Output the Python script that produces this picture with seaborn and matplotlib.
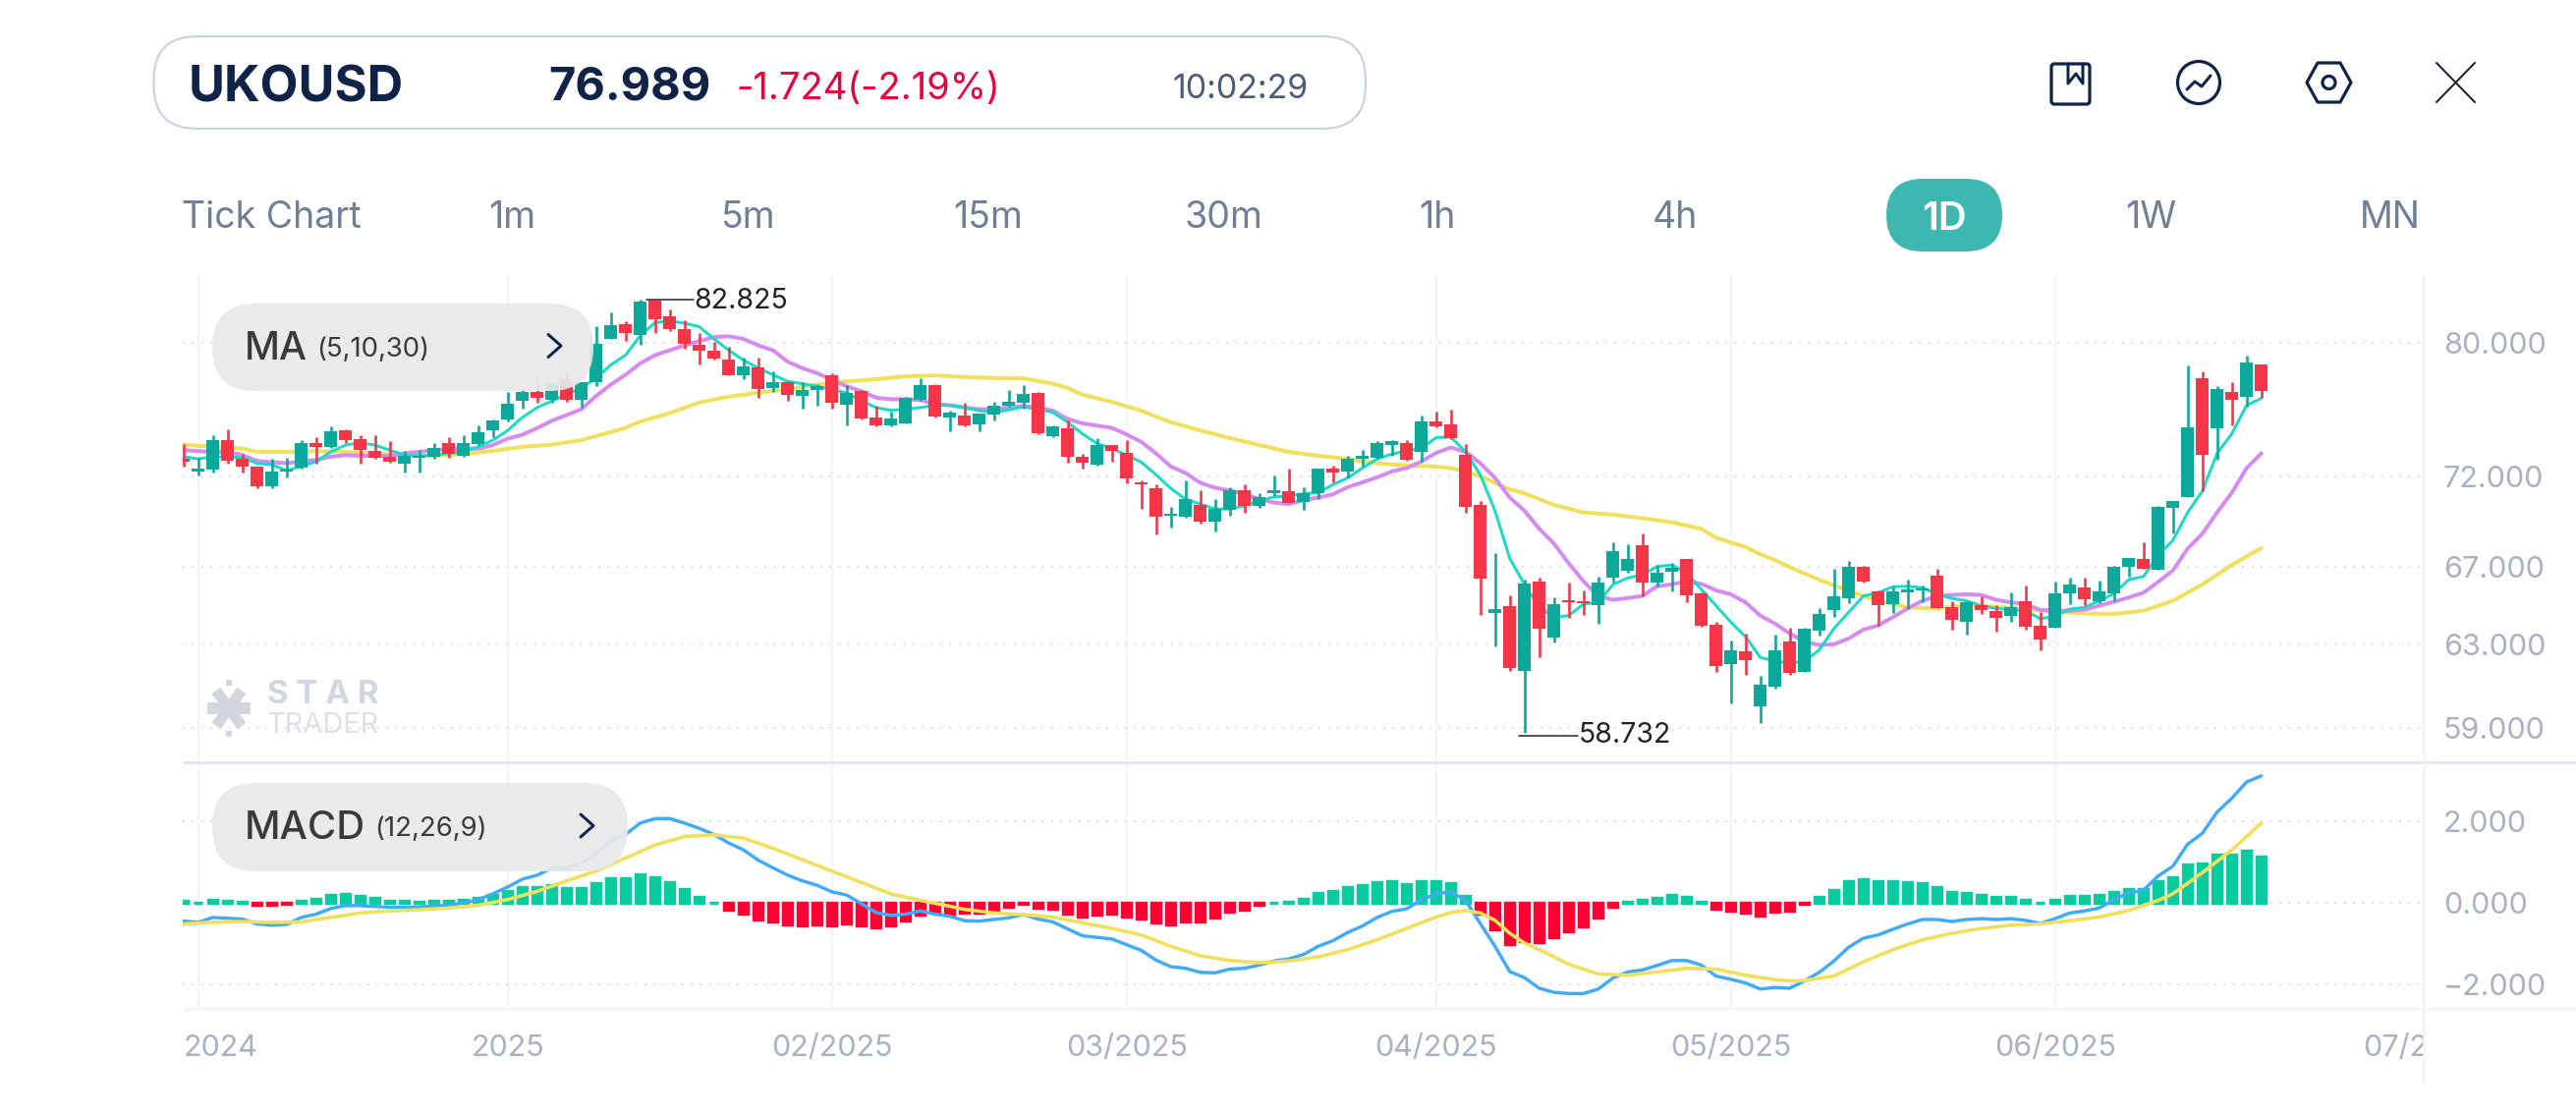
import numpy as np
import pandas as pd
import matplotlib
matplotlib.use("Agg")
import matplotlib.pyplot as plt
from matplotlib.patches import FancyBboxPatch, Circle, Polygon
from matplotlib.transforms import Bbox, TransformedBbox
import seaborn as sns

# ---------- data ----------
opens = [73.02,72.27,72.37,74.11,73.02,72.57,71.41,72.27,72.50,73.94,73.67,74.64,74.15,73.46,73.12,72.70,73.06,73.10,73.90,73.17,
 73.84,74.65,75.33,76.42,76.97,76.48,77.69,76.48,77.55,80.29,81.19,80.50,82.71,81.69,80.90,79.92,79.51,78.97,77.96,78.49,
 77.19,77.55,76.72,77.07,78.00,76.18,77.05,75.43,74.94,75.10,76.48,77.39,75.43,75.53,75.02,75.59,76.12,76.28,76.91,74.31,
 74.79,73.12,72.65,73.82,73.34,71.67,71.34,69.78,69.73,70.40,69.46,70.11,71.21,70.31,71.03,71.15,70.55,71.04,72.42,72.27,
 73.00,73.08,73.79,73.92,73.40,75.19,75.02,73.25,70.40,64.60,64.98,61.72,66.25,63.36,65.28,65.21,65.01,66.42,66.82,68.18,
 66.16,66.73,67.41,65.62,64.02,62.05,62.66,60.02,60.94,63.15,61.66,63.68,64.76,65.37,66.99,65.72,65.06,65.67,65.77,66.56,
 64.89,64.16,65.00,64.69,64.47,65.23,63.93,63.86,65.62,65.94,65.20,65.62,66.99,67.44,66.85,70.22,70.80,77.82,74.77,76.97,76.66,78.67]
highs = [73.88,73.08,74.40,74.75,73.31,72.57,73.02,73.08,74.11,74.27,74.87,74.75,74.40,74.40,74.04,73.46,73.50,73.94,74.27,74.40,
 74.98,75.33,76.97,77.17,77.88,77.65,78.26,77.55,81.07,81.97,81.42,82.83,82.80,82.17,81.46,80.65,80.09,79.76,79.10,79.10,
 78.22,77.61,77.55,77.47,78.12,77.41,77.07,76.12,75.77,76.68,77.82,77.45,75.83,76.32,75.65,76.38,77.11,77.39,76.95,74.98,
 75.23,73.31,74.21,73.82,74.08,71.74,71.52,70.24,71.74,71.19,70.70,71.37,71.52,71.01,72.03,72.42,71.39,72.46,72.61,73.17,
 73.53,74.04,74.08,74.06,75.57,75.79,75.92,73.88,70.57,67.75,65.53,66.33,66.42,65.40,66.16,65.79,66.50,68.34,68.20,68.79,
 67.11,67.20,67.41,65.65,64.17,63.20,63.56,61.45,63.51,63.86,63.84,64.84,66.89,67.30,67.06,65.75,65.96,66.31,66.01,66.89,
 65.23,65.23,65.45,65.03,65.65,66.04,64.64,66.21,66.42,66.42,66.28,67.07,67.49,68.30,70.31,70.57,78.61,78.26,77.35,77.57,79.22,78.67]
lows = [72.55,72.05,72.20,72.74,72.23,71.30,71.34,71.90,72.46,72.74,73.65,73.94,72.70,73.02,72.76,72.20,72.23,73.02,73.08,73.14,
 73.79,74.27,75.18,75.98,76.32,76.28,76.38,76.02,77.35,80.25,80.17,79.92,80.67,80.79,79.65,78.69,78.97,77.96,77.75,76.58,
 76.97,76.42,75.98,76.12,75.94,74.98,75.33,74.87,74.91,75.06,76.44,75.43,74.60,74.91,74.60,75.23,76.08,75.98,74.44,74.23,
 72.76,72.42,72.59,72.80,71.58,70.15,68.74,69.11,69.65,69.37,68.93,69.78,69.96,70.20,70.88,70.46,70.09,70.70,71.67,71.90,
 72.55,73.02,73.17,72.87,72.84,74.83,74.15,69.93,64.50,62.90,61.72,58.73,62.39,63.12,64.35,64.50,64.06,66.18,66.68,65.48,
 65.99,65.70,65.15,63.89,61.66,60.14,61.50,59.21,60.85,61.52,61.66,63.46,64.39,65.10,66.16,63.94,64.60,64.80,65.15,64.84,
 63.76,63.51,64.55,63.64,64.14,63.76,62.72,63.86,65.06,65.01,65.10,65.23,66.47,66.89,66.85,68.79,70.80,71.15,72.93,74.98,76.08,76.62]
closes = [72.80,72.42,74.11,72.87,72.53,71.41,72.27,72.40,73.94,73.67,74.62,74.06,73.50,73.06,72.80,73.17,73.17,73.63,73.31,73.92,
 74.56,75.27,76.26,76.97,76.58,77.51,76.46,77.55,79.96,81.15,80.63,82.70,81.52,80.92,79.96,79.55,79.04,78.02,78.53,77.15,
 77.55,76.81,77.07,77.31,76.28,76.91,75.39,74.94,75.37,76.62,77.39,75.47,75.73,74.94,75.65,76.12,76.38,76.85,74.48,74.91,
 73.12,72.76,73.82,73.44,71.86,71.52,69.73,69.87,70.73,69.47,70.15,71.21,70.33,70.82,71.23,70.51,71.03,72.46,72.23,73.02,
 73.17,73.92,74.02,72.93,75.19,74.87,74.19,70.28,66.38,64.79,61.85,66.11,63.81,65.05,65.18,65.11,66.19,67.85,67.44,66.19,
 66.68,66.94,65.53,63.93,61.93,62.71,62.21,61.02,62.71,61.61,63.79,64.54,65.45,67.02,66.21,65.01,65.74,65.82,65.89,64.86,
 64.26,65.15,64.77,64.35,64.91,63.91,63.24,65.60,66.09,65.31,65.70,67.02,67.49,66.90,70.24,70.57,74.85,73.21,77.15,76.48,78.77,77.03]

ma5 = [73.12,72.99,73.12,73.12,73.06,72.74,72.65,72.33,72.55,72.84,73.40,73.79,73.94,73.79,73.50,73.21,73.17,73.21,73.31,73.40,
 73.69,74.08,74.65,75.43,76.02,76.42,76.81,77.21,77.82,78.63,79.24,80.48,81.31,81.42,81.27,81.05,80.27,79.55,78.93,78.43,
 78.02,77.61,77.47,77.31,77.11,76.91,76.42,76.02,75.86,75.92,76.02,76.16,76.16,76.02,75.83,75.73,75.88,76.06,75.92,75.73,
 75.14,74.46,73.88,73.59,73.21,72.80,72.08,71.30,70.70,70.42,70.15,70.15,70.33,70.61,70.82,70.88,71.01,71.06,71.52,71.90,
 72.46,72.99,73.27,73.46,73.59,74.23,74.27,73.40,72.08,70.05,67.46,66.08,64.89,64.39,64.47,65.06,65.15,66.08,66.42,66.59,
 67.02,67.11,66.68,65.82,64.98,64.14,63.40,62.37,62.18,62.10,62.18,62.74,63.81,64.64,65.48,65.65,65.96,65.99,65.91,65.57,
 65.35,65.23,64.98,64.84,64.76,64.72,64.31,64.44,64.80,64.89,65.23,65.60,66.33,66.50,67.63,68.43,69.96,71.15,73.31,74.46,76.16,76.58]
ma10 = [73.50,73.44,73.40,73.40,73.21,72.87,72.80,72.74,72.84,72.93,73.12,73.21,73.17,73.17,73.17,73.31,73.40,73.50,73.55,73.59,
 73.59,73.79,74.17,74.40,74.79,75.23,75.57,75.92,76.72,77.41,78.02,78.73,79.24,79.55,79.86,80.13,80.38,80.44,80.27,79.86,
 79.55,78.83,78.43,78.12,77.71,77.31,77.01,76.62,76.52,76.52,76.48,76.22,76.16,76.02,75.92,75.92,76.02,76.12,76.02,75.83,
 75.33,75.08,74.94,74.81,74.42,73.98,73.31,72.55,72.18,71.62,71.34,71.19,70.97,70.70,70.51,70.42,70.64,70.79,70.97,71.37,
 71.65,71.93,72.27,72.46,72.84,73.34,73.65,73.40,72.74,71.90,70.79,70.05,69.06,68.25,67.20,66.25,65.48,65.28,65.37,65.48,
 65.99,66.08,66.25,66.11,65.77,65.57,65.15,64.47,64.06,63.56,63.15,62.99,63.02,63.31,63.76,63.97,64.39,64.84,65.23,65.48,
 65.53,65.57,65.53,65.28,65.15,65.06,64.76,64.72,64.72,64.77,64.98,65.18,65.40,65.65,66.21,66.82,67.98,68.79,69.96,71.06,72.46,73.31]
ma30_days = [0,2,4,5,7,9,11,13,15,17,19,21,23,25,27,29,30,31,33,35,37,39,41,43,45,47,49,51,53,55,57,59,60,61,63,65,67,69,71,73,75,77,79,81,83,85,86,
 87,88,89,90,91,93,95,97,99,101,103,104,106,107,108,109,111,113,115,117,119,121,123,125,127,129,131,133,135,137,139,141]
ma30 = [73.82,73.69,73.59,73.40,73.40,73.44,73.40,73.31,73.21,73.17,73.27,73.46,73.69,73.82,74.08,74.56,74.81,75.18,75.69,76.32,76.68,76.91,77.15,77.41,77.61,77.75,77.92,77.98,77.88,77.82,77.80,77.47,77.21,76.81,76.36,75.83,75.14,74.65,74.21,73.79,73.40,73.17,72.99,72.74,72.61,72.55,72.46,
 72.27,71.99,71.62,71.25,71.03,70.38,69.96,69.84,69.64,69.42,69.06,68.57,68.07,67.68,67.37,66.99,66.33,65.74,65.23,64.89,64.84,64.98,64.93,64.80,64.67,64.58,64.55,64.72,65.23,66.08,67.11,68.01]

hist = [.04,.01,.07,.04,.02,-.05,-.05,-.02,.04,.10,.19,.22,.17,.12,.04,.04,.02,.04,.04,.07,
 .11,.19,.29,.39,.39,.43,.36,.36,.48,.60,.60,.70,.63,.51,.34,.14,.01,-.16,-.27,-.40,
 -.46,-.53,-.56,-.53,-.56,-.51,-.56,-.60,-.56,-.43,-.28,-.21,-.29,-.24,-.23,-.17,-.09,-.02,-.11,-.14,
 -.27,-.33,-.29,-.26,-.33,-.39,-.48,-.53,-.46,-.45,-.36,-.21,-.16,-.06,.01,.02,.10,.24,.29,.39,
 .43,.50,.53,.46,.53,.53,.48,.17,-.27,-.65,-1.01,-.93,-.97,-.85,-.70,-.58,-.36,-.10,.02,.07,
 .12,.19,.14,.02,-.14,-.19,-.25,-.31,-.21,-.19,-.02,.14,.31,.53,.58,.53,.53,.51,.48,.39,
 .27,.24,.19,.14,.14,.07,.01,.07,.17,.17,.19,.27,.34,.34,.53,.63,.94,.97,1.18,1.18,1.28,1.14]
dif = [-.45,-.48,-.36,-.38,-.40,-.52,-.55,-.53,-.36,-.28,-.14,-.07,-.07,-.09,-.11,-.11,-.10,-.08,-.06,0,
 .08,.22,.39,.58,.68,.85,.86,.98,1.22,1.52,1.68,1.96,2.07,2.07,1.96,1.83,1.68,1.47,1.30,1.05,
 .86,.68,.54,.43,.27,.19,-.02,-.24,-.31,-.28,-.20,-.28,-.33,-.44,-.45,-.41,-.37,-.29,-.40,-.47,
 -.64,-.81,-.85,-.89,-1.03,-1.17,-1.41,-1.57,-1.61,-1.71,-1.72,-1.63,-1.61,-1.53,-1.43,-1.38,-1.27,-1.07,-.93,-.73,
 -.57,-.36,-.21,-.15,.07,.22,.27,.06,-.51,-1.07,-1.69,-1.84,-2.10,-2.20,-2.23,-2.23,-2.12,-1.85,-1.70,-1.65,
 -1.54,-1.42,-1.42,-1.53,-1.80,-1.88,-1.97,-2.12,-2.08,-2.10,-1.92,-1.71,-1.43,-1.09,-.87,-.79,-.65,-.52,-.41,-.41,
 -.46,-.41,-.39,-.41,-.39,-.43,-.51,-.39,-.25,-.20,-.13,.08,.24,.31,.66,.90,1.44,1.71,2.23,2.57,2.97,3.12]
dea_days = [0,2,4,6,8,10,12,14,16,18,20,22,24,26,28,30,32,34,36,38,40,42,44,46,48,50,51,53,55,57,59,61,63,65,67,69,71,73,75,77,79,81,83,85,86,87,88,89,90,91,92,94,96,98,100,102,104,
 106,108,109,110,112,114,116,118,120,122,124,126,128,130,132,134,135,137,139,140,141]
dea = [-.52,-.48,-.46,-.48,-.47,-.36,-.25,-.20,-.17,-.13,-.06,.08,.28,.54,.78,1.10,1.42,1.63,1.67,1.59,1.34,1.06,.78,.50,.22,.06,-.01,-.16,-.25,-.29,-.35,-.49,-.63,-.79,-1.07,-1.30,-1.42,-1.47,-1.43,-1.33,-1.15,-.91,-.63,-.35,-.24,-.19,-.25,-.43,-.75,-.99,-1.15,-1.51,-1.75,-1.78,-1.70,-1.61,-1.63,
 -1.78,-1.89,-1.92,-1.91,-1.80,-1.45,-1.15,-.91,-.75,-.63,-.55,-.52,-.44,-.35,-.19,.06,.22,.74,1.30,1.63,1.96]

price_ticks = [80, 72, 67, 63, 59]
price_labels = ["80.000", "72.000", "67.000", "63.000", "59.000"]
macd_ticks = [2, 0, -2]
macd_labels = ["2.000", "0.000", "\u22122.000"]
month_grid = [1, 22, 44, 64, 85, 105, 127]
month_ticks = [0, 22, 44, 64, 85, 105, 127, 152]
month_labels = ["2024", "2025", "02/2025", "03/2025", "04/2025", "05/2025", "06/2025", "07/2025"]
high_mark, low_mark = 82.825, 58.732

# ---------- style ----------
sns.set_theme(style="white")
FONT = ["Inter", "DejaVu Sans"]
plt.rcParams["font.family"] = FONT
W, H = 2622, 1135
DPI = 100
PX = 72 / DPI
UP, DOWN = "#0CA899", "#F43648"
HUP, HDOWN = "#08CC9F", "#FF0033"
NAVY = "#0F2248"
TICK = "#A9B1C2"
DOT = (0, (1, 3.7))

fig = plt.figure(figsize=(W / DPI, H / DPI), dpi=DPI, facecolor="white")
def axes_px(x0, y0, x1, y1, **kw):
    return fig.add_axes([x0 / W, 1 - y1 / H, (x1 - x0) / W, (y1 - y0) / H], **kw)

L, R = 186, 2467
xlim = ((L - 186.7) / 15, (R - 186.7) / 15)
ax = axes_px(L, 279, R, 776)
ax2 = axes_px(L, 776, R, 1027)
days = np.arange(len(opens))
opens_a, closes_a = np.array(opens), np.array(closes)
is_up = closes_a >= opens_a

# ---------- price pane ----------
ax.set_yscale("log")
sns.lineplot(data=pd.DataFrame({"d": ma30_days, "v": ma30}), x="d", y="v", ax=ax, color="#F0E05E",
             lw=4 * PX, estimator=None, zorder=2, legend=False)
sns.lineplot(data=pd.DataFrame({"d": days, "v": ma10}), x="d", y="v", ax=ax, color="#D58CF0",
             lw=4 * PX, estimator=None, zorder=3, legend=False)
sns.lineplot(data=pd.DataFrame({"d": days, "v": ma5}), x="d", y="v", ax=ax, color="#1ADBC6",
             lw=3 * PX, estimator=None, zorder=4, legend=False)
cols = [UP if u else DOWN for u in is_up]
ax.vlines(days, lows, highs, colors=cols, lw=2.6 * PX, zorder=5)
ax.bar(days, np.abs(closes_a - opens_a), bottom=np.minimum(opens_a, closes_a), width=0.84, color=cols, zorder=6, linewidth=0)
ax.plot([31.4, 34.6], [high_mark, high_mark], color="#2A2E39", lw=1.6 * PX, zorder=7)
ax.text(34.65, high_mark - .12, "82.825", color="#222222", fontsize=28.5 * PX, va="center", ha="left", zorder=7)
ax.plot([90.6, 94.6], [low_mark - .13, low_mark - .13], color="#2A2E39", lw=1.6 * PX, zorder=7)
ax.text(94.65, low_mark - .1, "58.732", color="#222222", fontsize=28.5 * PX, va="center", ha="left", zorder=7)
ax.set_ylim(80 * np.exp((349.3 - 776) / 1285), 80 * np.exp((349.3 - 279) / 1285))
ax.minorticks_off()
ax.set_yticks(price_ticks)
ax.set_yticklabels(price_labels)

# ---------- MACD pane ----------
hist_df = pd.DataFrame({"d": days, "v": hist, "dir": ["up" if v >= 0 else "down" for v in hist]})
sns.barplot(data=hist_df, x="d", y="v", hue="dir", palette={"up": HUP, "down": HDOWN}, native_scale=True,
            dodge=False, width=0.57, saturation=1, legend=False, ax=ax2, zorder=2)
for p in ax2.patches:
    p.set_edgecolor(p.get_facecolor())
    p.set_linewidth(3.4 * PX)
sns.lineplot(data=pd.DataFrame({"d": days, "v": dif}), x="d", y="v", ax=ax2, color="#41ABFA",
             lw=3.4 * PX, estimator=None, zorder=3, legend=False)
sns.lineplot(data=pd.DataFrame({"d": dea_days, "v": dea}), x="d", y="v", ax=ax2, color="#F0E05E",
             lw=3.6 * PX, estimator=None, zorder=4, legend=False)
ax2.set_ylim((447 - 771) / 124.25, (447 - 18) / 124.25)
ax2.set_yticks(macd_ticks)
ax2.set_yticklabels(macd_labels)
ax2.set_xticks(month_ticks)
ax2.set_xticklabels(month_labels)

for a in (ax, ax2):
    a.set_xlim(*xlim)
    a.set_xlabel(""); a.set_ylabel("")
    a.yaxis.tick_right()
    a.patch.set_alpha(0)
    for s in a.spines.values():
        s.set_visible(False)
    a.grid(axis="y", linestyle=DOT, linewidth=2 * PX, color="#DFE0E5", zorder=0)
    a.set_axisbelow(True)
    lo, hi = a.get_ylim()
    a.vlines(month_grid, lo, hi, colors="#F5F5F7", lw=2.2 * PX, zorder=0.5)
    a.set_ylim(lo, hi)
    a.tick_params(axis="y", length=0, pad=20 * PX, labelcolor=TICK, labelsize=30.5 * PX, right=False, labelright=True, left=False, labelleft=False)
ax.tick_params(axis="x", length=0, labelbottom=False)
ax2.tick_params(axis="x", length=0, pad=26 * PX, labelcolor=TICK, labelsize=30.5 * PX)
clip = TransformedBbox(Bbox([[0, 0], [R / W, 1]]), fig.transFigure)
labs = ax2.get_xticklabels()
labs[0].set_ha("left")
for t in labs:
    t.set_clip_box(clip); t.set_clip_on(True)

# ---------- overlay (page furniture, pixel coordinates) ----------
ov = axes_px(0, 0, W, H, zorder=10)
ov.set_xlim(0, W); ov.set_ylim(H, 0); ov.axis("off"); ov.patch.set_alpha(0)

def line(xs, ys, c, w, **kw):
    ov.plot(xs, ys, color=c, lw=w * PX, solid_capstyle=kw.pop("cap", "round"), solid_joinstyle="round", **kw)
def pill(x0, y0, x1, y1, r, **kw):
    ov.add_patch(FancyBboxPatch((x0 + r, y0 + r), x1 - x0 - 2 * r, y1 - y0 - 2 * r,
                                boxstyle=f"round,pad={r},rounding_size={r}", **kw))
def txt(x, y, s, c, size, weight="normal", ha="left", **kw):
    ov.text(x, y, s, color=c, fontsize=size * PX, fontweight=weight, ha=ha, va="center", **kw)

line([L, W], [776, 776], "#E3E5EF", 3, cap="butt")
line([L, W], [1027, 1027], "#F3F4F6", 2.6, cap="butt")
line([R, R], [279, 1103], "#F3F4F6", 2.6, cap="butt")

# header
pill(156.5, 37, 1390, 131, 44, facecolor="white", edgecolor="#CDD3DD", lw=2.2 * PX)
txt(192, 90, "UKOUSD", NAVY, 50.5, "bold")
txt(558, 90, "76.989", NAVY, 47, "bold")
txt(749, 91, "-1.724(-2.19%)", "#E8003F", 38)
txt(1193, 91, "10:02:29", "#4D5C78", 34)

# timeframe row
frames = [("Tick Chart", 185), ("1m", 497), ("5m", 733), ("15m", 970), ("30m", 1206), ("1h", 1444), ("4h", 1682), ("1W", 2163), ("MN", 2402)]
for s, x in frames:
    txt(x, 222, s, "#6F7F96", 37.5)
pill(1920, 182, 2038, 256, 37, facecolor="#3DB8B0", edgecolor="none")
txt(1979, 224, "1D", "white", 40, "semibold", ha="center")

# icons
pill(2088, 65, 2127, 106, 3, facecolor="none", edgecolor=NAVY, lw=3.2 * PX)
line([2105, 2105, 2113, 2120, 2120], [65, 85, 75, 85, 65], NAVY, 3)
ov.add_patch(Circle((2238, 84), 21.5, facecolor="none", edgecolor=NAVY, lw=3.2 * PX))
line([2226, 2234, 2241, 2250], [91, 83, 88, 77], NAVY, 3)
ov.add_patch(Polygon([(2359, 64), (2382, 64), (2393, 84), (2382, 104), (2359, 104), (2348, 84)], closed=True,
                     facecolor="none", edgecolor=NAVY, lw=3.2 * PX, joinstyle="round"))
ov.add_patch(Circle((2370.5, 84), 6.5, facecolor="none", edgecolor=NAVY, lw=3.2 * PX))
line([2480, 2519], [64, 104], "#1A1F2B", 2)
line([2519, 2480], [64, 104], "#1A1F2B", 2)

# indicator pills
for x0, x1, y0, y1, name, params, nsize, px, chev in [(216, 604, 309, 398, "MA", "(5,10,30)", 39.5, 322, 558),
                                                      (216, 639, 797, 887, "MACD", "(12,26,9)", 40, 381, 591)]:
    pill(x0, y0, x1, y1, 44, facecolor="#E8E9EB", edgecolor="none", alpha=0.93)
    yc = (y0 + y1) / 2
    txt(249, yc + 2, name, "#3A3A3A", nsize, "medium")
    txt(px, yc + 2, params, "#3A3A3A", 27.5)
    line([chev, chev + 13, chev], [yc - 13, yc - 1.5, yc + 10], NAVY, 3)

# watermark
WM = "#D2D6DE"
txt(272, 708, "S T A R", WM, 33, "bold")
txt(272, 739, "TRADER", "#DDE0E6", 29)
ov.plot([211, 255], [721, 721], color=WM, lw=12 * PX, solid_capstyle="butt")
ov.plot([220, 246], [703, 739], color=WM, lw=11 * PX, solid_capstyle="butt")
ov.plot([246, 220], [703, 739], color=WM, lw=11 * PX, solid_capstyle="butt")
ov.plot([233, 233], [692, 698], color=WM, lw=6 * PX, solid_capstyle="butt")
ov.plot([233, 233], [744, 750], color=WM, lw=6 * PX, solid_capstyle="butt")

fig.savefig("out.png", dpi=DPI, facecolor="white")
